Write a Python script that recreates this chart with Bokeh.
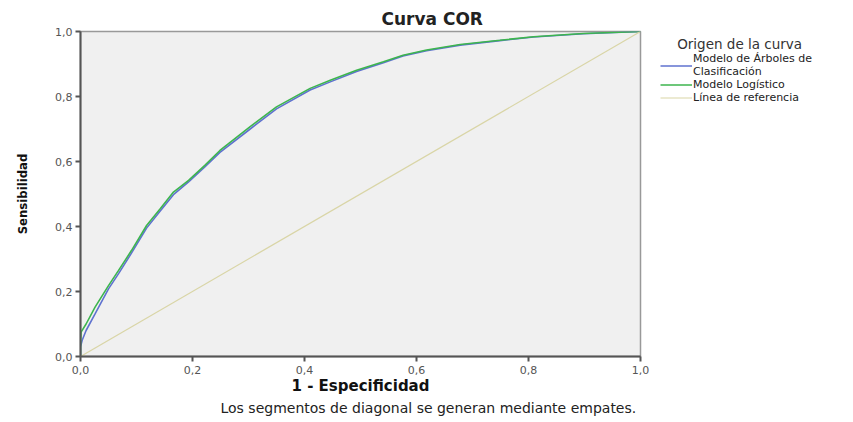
from bokeh.plotting import figure
from bokeh.models import Range1d, FixedTicker, CustomJSTickFormatter, Legend, LegendItem, Title
from bokeh.embed import file_html
from bokeh.resources import INLINE

# 1 - Especificidad / Sensibilidad
arbol_fpr = [0.0, 0.0, 0.003, 0.01, 0.026, 0.05, 0.068, 0.091, 0.118, 0.142, 0.166, 0.193, 0.222, 0.249,
             0.303, 0.350, 0.41, 0.446, 0.493, 0.541, 0.576, 0.618, 0.678, 0.749, 0.809, 0.898, 1.0]
arbol_tpr = [0.0, 0.03, 0.05, 0.08, 0.131, 0.208, 0.255, 0.318, 0.395, 0.447, 0.498, 0.537, 0.583, 0.628,
             0.700, 0.762, 0.820, 0.845, 0.877, 0.904, 0.925, 0.941, 0.958, 0.972, 0.983, 0.993, 1.0]
logit_fpr = [0.0, 0.0, 0.001, 0.01, 0.026, 0.05, 0.068, 0.091, 0.118, 0.142, 0.166, 0.193, 0.222, 0.249,
             0.303, 0.350, 0.41, 0.446, 0.493, 0.541, 0.576, 0.618, 0.678, 0.749, 0.809, 0.898, 1.0]
logit_tpr = [0.0, 0.035, 0.075, 0.10, 0.152, 0.218, 0.265, 0.326, 0.403, 0.454, 0.506, 0.542, 0.588, 0.634,
             0.707, 0.768, 0.825, 0.850, 0.881, 0.907, 0.927, 0.943, 0.960, 0.973, 0.984, 0.994, 1.0]
ref_x = [0.0, 1.0]
ref_y = [0.0, 1.0]
ticks = [0.0, 0.2, 0.4, 0.6, 0.8, 1.0]

p = figure(frame_width=560, frame_height=325, output_backend="svg", toolbar_location=None,
           x_range=Range1d(0, 1), y_range=Range1d(0, 1),
           min_border_left=80, min_border_right=205, min_border_top=31, min_border_bottom=62)
p.background_fill_color = "#f0f0f0"
p.border_fill_color = "white"
p.outline_line_color = "#999999"
p.outline_line_width = 1.5
p.xgrid.visible = False
p.ygrid.visible = False

p.title.text = "Curva COR"
p.title.align = "left"
p.title.offset = 301
p.title.text_font = "DejaVu Sans"
p.title.text_font_style = "bold"
p.title.text_font_size = "17px"
p.title.text_color = "#222222"
p.title.standoff = 5

fmt = CustomJSTickFormatter(code="return tick.toFixed(1).replace('.', ',');")
for ax in (p.xaxis[0], p.yaxis[0]):
    ax.ticker = FixedTicker(ticks=ticks)
    ax.formatter = fmt
    ax.minor_tick_line_color = None
    ax.major_tick_out = 5
    ax.major_tick_in = 0
    ax.axis_line_color = "#555555"
    ax.axis_line_width = 2
    ax.major_tick_line_color = "#555555"
    ax.major_tick_line_width = 2
    ax.major_label_text_font = "DejaVu Sans"
    ax.major_label_text_font_size = "11px"
    ax.major_label_text_color = "#555555"
    ax.axis_label_text_color = "#111111"
    ax.axis_label_text_font_style = "bold"

p.xaxis.axis_label = "1 - Especificidad"
p.xaxis.axis_label_text_font = "DejaVu Sans"
p.xaxis.axis_label_text_font_size = "15px"
p.xaxis.major_label_standoff = 4
p.xaxis.axis_label_standoff = 0

p.yaxis.axis_label = "Sensibilidad"
p.yaxis.axis_label_text_font = "DejaVu Sans Condensed"
p.yaxis.axis_label_text_font_size = "13px"
p.yaxis.major_label_standoff = 3
p.yaxis.axis_label_standoff = 22

r1 = p.line(arbol_fpr, arbol_tpr, line_color="#5f72cf", line_width=1.6)
r2 = p.line(logit_fpr, logit_tpr, line_color="#3db54e", line_width=1.6)
r3 = p.line(ref_x, ref_y, line_color="#d9d5a6", line_width=1.2)

legend = Legend(items=[
    LegendItem(label="Modelo de Árboles de\nClasificación", renderers=[r1]),
    LegendItem(label="Modelo Logístico", renderers=[r2]),
    LegendItem(label="Línea de referencia", renderers=[r3]),
], location=(20, 252))
legend.title = "\u00a0\u00a0\u00a0\u00a0Origen de la curva"
legend.title_text_font = "DejaVu Sans"
legend.title_text_font_size = "13.5px"
legend.title_text_font_style = "normal"
legend.title_text_color = "#333333"
legend.title_standoff = 0
legend.label_text_font = "DejaVu Sans"
legend.label_text_font_size = "11px"
legend.label_text_color = "#222222"
legend.label_text_line_height = 0.8
legend.label_height = 9
legend.glyph_height = 9
legend.glyph_width = 32
legend.label_standoff = 1
legend.spacing = 0
legend.padding = 4
legend.margin = 0
legend.border_line_color = None
legend.background_fill_alpha = 0
p.add_layout(legend, "right")

foot = Title(text="Los segmentos de diagonal se generan mediante empates.", align="left",
             text_font="DejaVu Sans", text_font_size="14px", text_font_style="normal",
             text_color="#222222", offset=140, standoff=0)
p.add_layout(foot, "below")

open("out.html", "w").write(file_html(p, INLINE))
